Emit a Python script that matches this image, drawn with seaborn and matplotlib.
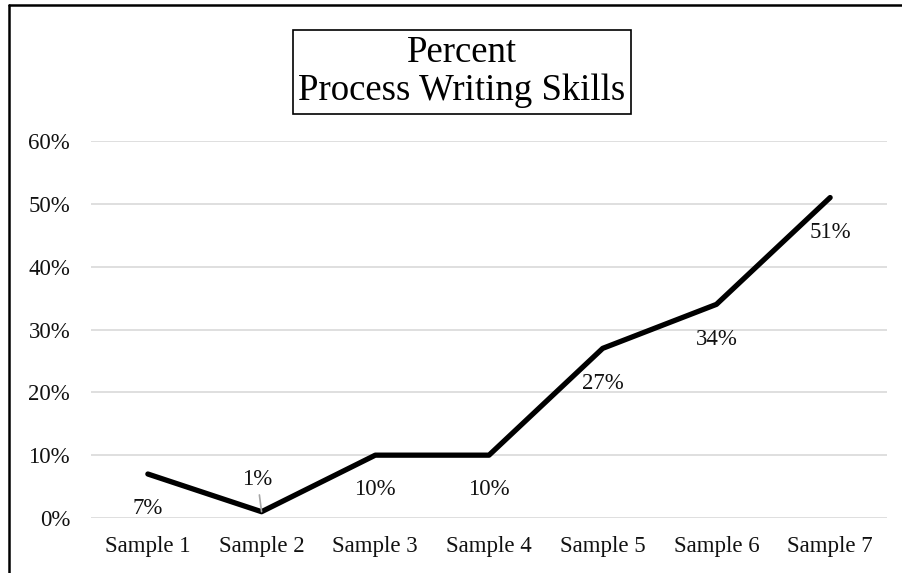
import matplotlib
matplotlib.use("Agg")
import seaborn as sns
import pandas as pd
from matplotlib import pyplot as plt
from matplotlib.lines import Line2D
from matplotlib.ticker import PercentFormatter

samples = ["Sample 1", "Sample 2", "Sample 3", "Sample 4", "Sample 5", "Sample 6", "Sample 7"]
percent = [0.07, 0.01, 0.10, 0.10, 0.27, 0.34, 0.51]
yticks = [0.0, 0.1, 0.2, 0.3, 0.4, 0.5, 0.6]
title = "Percent\nProcess Writing Skills"

sns.set_theme(style="whitegrid")
plt.rcParams["font.family"] = ["Liberation Serif", "DejaVu Serif"]

df = pd.DataFrame({"sample": samples, "pct": percent})

fig = plt.figure(figsize=(9.03, 5.73), dpi=100)
ax = fig.add_axes([91 / 903, 1 - 518 / 573, 796 / 903, 377 / 573])

sns.lineplot(data=df, x="sample", y="pct", sort=False, color="black",
             linewidth=3.8, solid_capstyle="round", solid_joinstyle="round", ax=ax)

# data labels: below the point, except where they'd hit the axis
for i, (s, v) in enumerate(zip(samples, percent)):
    if s == "Sample 2":
        ax.annotate(f"{v:.0%}", xy=(i, v), xytext=(-3, 23), textcoords="offset points",
                    ha="center", va="center", fontsize=16.5, color="#111111",
                    arrowprops=dict(arrowstyle="-", color="#a6a6a6", lw=1.2,
                                    shrinkA=1, shrinkB=0))
    else:
        ax.annotate(f"{v:.0%}", xy=(i, v), xytext=(0, -25), textcoords="offset points",
                    ha="center", va="center", fontsize=16.5, color="#111111")

ax.set_xlim(-0.5, len(samples) - 0.5)
ax.set_ylim(0, 0.6)
ax.set_yticks(yticks)
ax.yaxis.set_major_formatter(PercentFormatter(1.0, decimals=0))
ax.set_xlabel("")
ax.set_ylabel("")
ax.grid(axis="y", color="#d9d9d9", linewidth=1.2)
ax.grid(axis="x", visible=False)
sns.despine(ax=ax, left=True, bottom=True)
ax.tick_params(axis="x", length=0, pad=13, labelsize=16.5, labelcolor="#111111")
ax.tick_params(axis="y", length=0, pad=15, labelsize=16.5, labelcolor="#111111")

fig.text(462 / 903, 1 - 72 / 573, title, ha="center", va="center", fontsize=26.5,
         linespacing=1.12, color="black",
         bbox=dict(boxstyle="square,pad=0.15", facecolor="white", edgecolor="black", linewidth=1.2))

# outer frame of the chart area (right and bottom edges fall outside the image)
fx = 9 / 903
fy = 1 - 5 / 573
fig.add_artist(Line2D([fx, fx], [-0.05, fy], transform=fig.transFigure, color="black", linewidth=1.8))
fig.add_artist(Line2D([fx, 1.05], [fy, fy], transform=fig.transFigure, color="black", linewidth=1.8))

plt.savefig("out.png", dpi=100)
plt.close()
